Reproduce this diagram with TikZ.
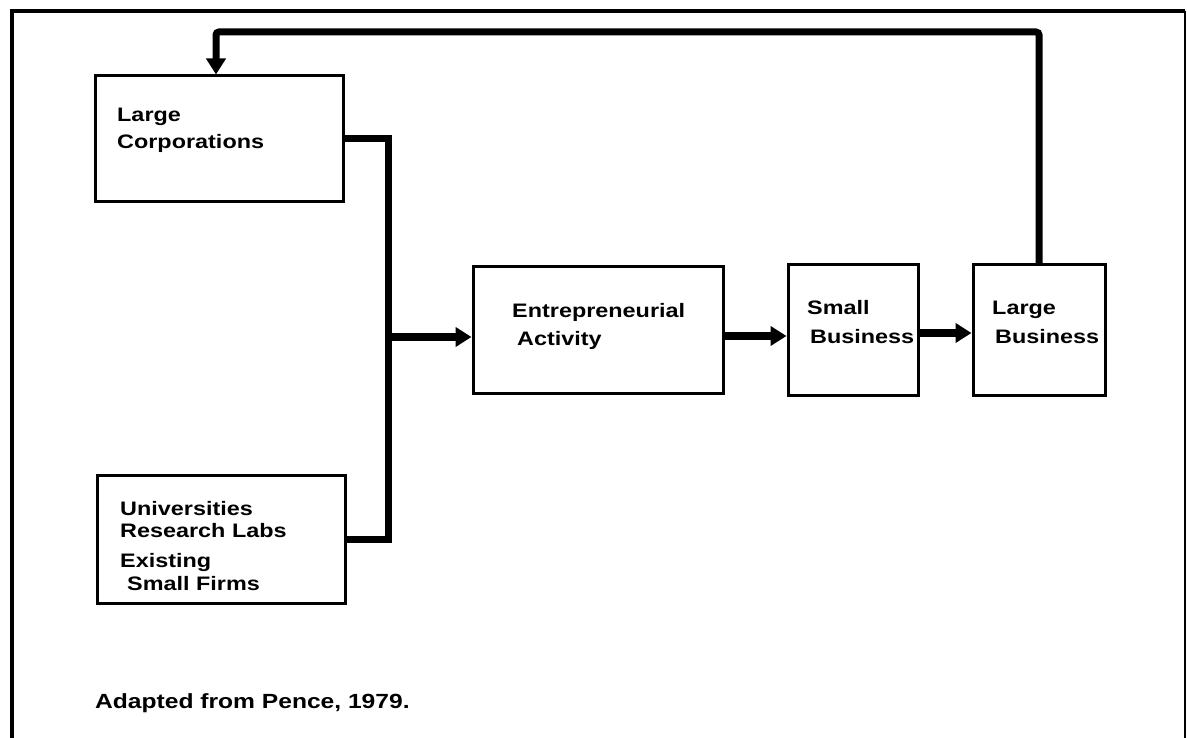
\documentclass[tikz,border=0pt]{standalone}
\usepackage{fontspec}
\setmainfont{Liberation Sans}[FakeStretch=1.2]
\usetikzlibrary{arrows.meta}

\tikzset{
  box/.style={draw, line width=3pt, inner sep=0pt},
  lbl/.style={anchor=base west, inner sep=0pt, font=\bfseries\fontsize{19.5}{23}\selectfont},
  conn/.style={line width=7pt, line join=miter},
  arr/.style={conn, -{Triangle[length=16pt,width=19pt]}},
  frame/.style={line width=4.5pt}
}

\begin{document}
\begin{tikzpicture}[x=1pt, y=-1pt]
  % page area
  \fill[white] (0,0) rectangle (1187,738);
  \useasboundingbox (0,0) rectangle (1187,738);

  % outer frame (open at the bottom)
  \draw[frame] (12,738) -- (12,11) -- (1185,11);
  \draw[line width=2.5pt] (1185,11) -- (1185,738);

  % boxes
  \node[box, minimum width=248pt, minimum height=126pt] (lc)  at (219,139) {};
  \node[box, minimum width=248pt, minimum height=128pt] (uni) at (221,539) {};
  \node[box, minimum width=250pt, minimum height=127pt] (ea)  at (598,330) {};
  \node[box, minimum width=130pt, minimum height=130pt] (sb)  at (853,330) {};
  \node[box, minimum width=132pt, minimum height=130pt] (lb)  at (1039,330) {};

  % box texts
  \node[lbl] (t1) at (117,122) {Large};
  \node[lbl] (t2) at (117,149) {Corporations};
  \node[lbl] (t3) at (120,515) {Universities};
  \node[lbl] (t4) at (120,537) {Research Labs};
  \node[lbl] (t5) at (120,567) {Existing};
  \node[lbl] (t6) at (127,590) {Small Firms};
  \node[lbl] (t7) at (512,318) {Entrepreneurial};
  \node[lbl] (t8) at (517,345) {Activity};
  \node[lbl] (t9) at (807,315) {Small};
  \node[lbl] (t10) at (810,343) {Business};
  \node[lbl] (t11) at (992,315) {Large};
  \node[lbl] (t12) at (995,343) {Business};

  % caption
  \node[lbl, font=\bfseries\fontsize{20.5}{24}\selectfont] (cap) at (95,708) {Adapted from Pence, 1979.};

  % junction of the two sources
  \coordinate (jn) at (388,337);
  \draw[conn] (lc.east) -| (jn) |- (uni.east);
  \draw[arr] (jn) -- (jn -| ea.west);

  % main chain
  \draw[arr] ([yshift=-6pt]ea.east) -- ([yshift=-6pt]ea.east -| sb.west);
  \draw[arr] ([yshift=-3pt]sb.east) -- ([yshift=-3pt]sb.east -| lb.west);

  % feedback loop back to large corporations
  \coordinate (fb) at (216,32);
  \draw[arr, rounded corners=3pt] (lb.north) |- (fb) -- (fb |- lc.north);
\end{tikzpicture}
\end{document}
